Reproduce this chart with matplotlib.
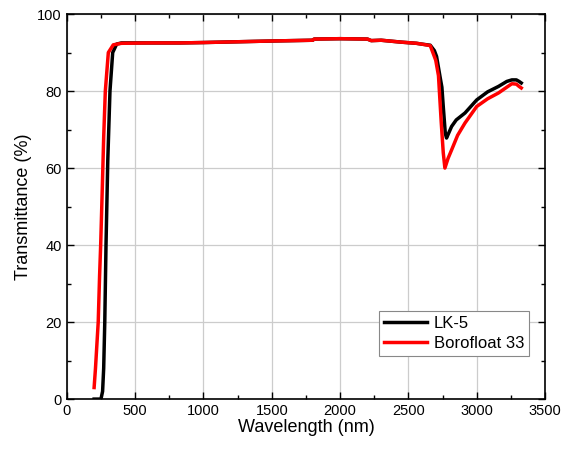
import matplotlib.pyplot as plt
from matplotlib.ticker import MultipleLocator

# Transmission spectra, values
lk5_wl = [200, 250, 262, 270, 278, 287, 300, 316, 336, 365, 400, 600, 830, 1000,
          1500, 1800, 1810, 2000, 2200, 2228, 2300, 2449, 2559, 2596, 2660, 2690,
          2706, 2718, 2735, 2745, 2755, 2770, 2779, 2800, 2816, 2850, 2914, 3000,
          3080, 3159, 3220, 3257, 3290, 3310, 3326]
lk5_t = [0, 0, 2, 8, 20, 40, 62, 80, 90, 92.2, 92.5, 92.5, 92.5, 92.6,
         93.0, 93.2, 93.5, 93.6, 93.5, 93.1, 93.2, 92.7, 92.4, 92.2, 91.9, 90.5,
         89, 86.5, 83, 81, 76, 69, 67.8, 69.5, 70.8, 72.5, 74.3, 77.7,
         79.8, 81.2, 82.5, 82.9, 82.9, 82.5, 82.1]

boro_wl = [200, 210, 220, 230, 240, 248, 260, 270, 282, 304, 340, 400, 600, 830,
           1000, 1500, 1800, 1810, 2000, 2200, 2228, 2300, 2449, 2559, 2596, 2660,
           2700, 2720, 2740, 2755, 2767, 2790, 2816, 2860, 2914, 3000, 3080, 3159,
           3220, 3257, 3290, 3310, 3326]
boro_t = [3, 8, 14, 20, 32, 40, 55, 68, 80, 90, 92, 92.4, 92.5, 92.5,
          92.6, 93.0, 93.2, 93.5, 93.6, 93.5, 93.1, 93.2, 92.7, 92.4, 92.2, 91.8,
          88, 84, 72, 64, 60, 62.5, 64.7, 68.5, 71.7, 76, 78, 79.5,
          81, 81.9, 81.8, 81.2, 80.8]


def crear_grafica():
    plt.rcParams['font.family'] = ['Liberation Sans', 'DejaVu Sans']
    fig = plt.figure(figsize=(5.66, 4.53), dpi=100)
    ax = fig.add_axes([0.118, 0.119, 0.845, 0.850])

    ax.plot(lk5_wl, lk5_t, color='black', lw=2.5, label='LK-5')
    ax.plot(boro_wl, boro_t, color='#ff0000', lw=2.5, label='Borofloat 33')

    ax.set_xlim(0, 3500)
    ax.set_ylim(0, 100)
    ax.xaxis.set_major_locator(MultipleLocator(500))
    ax.xaxis.set_minor_locator(MultipleLocator(250))
    ax.yaxis.set_major_locator(MultipleLocator(20))
    ax.yaxis.set_minor_locator(MultipleLocator(10))
    ax.tick_params(which='both', direction='in', top=True, right=True,
                   labelsize=10.5, width=1)
    ax.tick_params(which='major', length=5)
    ax.tick_params(which='minor', length=3)
    for s in ax.spines.values():
        s.set_linewidth(1.2)
    ax.grid(True, which='major', color='#cccccc', lw=0.9)
    ax.set_axisbelow(True)

    ax.set_xlabel('Wavelength (nm)', fontsize=13, labelpad=1)
    ax.set_ylabel('Transmittance (%)', fontsize=13, labelpad=4)

    leg = ax.legend(loc='lower right', bbox_to_anchor=(0.967, 0.112),
                    borderaxespad=0, fontsize=12, fancybox=False,
                    edgecolor='#888888', framealpha=1, handlelength=2.6,
                    handletextpad=0.4, borderpad=0.3, labelspacing=0.3)
    leg.get_frame().set_linewidth(0.8)

    fig.savefig('out.png', dpi=100)


def main():
    crear_grafica()


if __name__ == "__main__":
    main()
